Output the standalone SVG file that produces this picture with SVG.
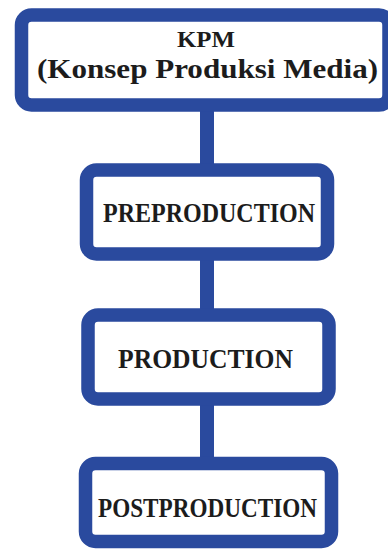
<svg xmlns="http://www.w3.org/2000/svg" width="388" height="550" viewBox="0 0 388 550">
<style>
.box{fill:#ffffff;stroke:#2a4a9e;stroke-width:13.5}
.conn{stroke:#2a4a9e;stroke-width:14;fill:none}
.t{font-family:"Liberation Serif",serif;font-weight:bold;fill:#1c1c1c;text-anchor:start}
</style>
<rect x="0" y="0" width="388" height="550" fill="#ffffff"/>
<g id="connectors">
<line class="conn" x1="207" y1="105" x2="207" y2="170"/>
<line class="conn" x1="207" y1="254" x2="207" y2="315"/>
<line class="conn" x1="207" y1="399" x2="207" y2="463"/>
</g>
<g id="kpm">
<rect class="box" x="21.5" y="15" width="367.5" height="90" rx="10"/>
<text class="t" x="177" y="47" font-size="23" textLength="58" lengthAdjust="spacingAndGlyphs">KPM</text>
<text class="t" x="37" y="78" font-size="27" textLength="341" lengthAdjust="spacingAndGlyphs">(Konsep Produksi Media)</text>
</g>
<g id="preproduction">
<rect class="box" x="86.5" y="170" width="241" height="84" rx="10"/>
<text class="t" x="103" y="222" font-size="27" textLength="212" lengthAdjust="spacingAndGlyphs">PREPRODUCTION</text>
</g>
<g id="production">
<rect class="box" x="88" y="315" width="241" height="84" rx="10"/>
<text class="t" x="118" y="368" font-size="27" textLength="175" lengthAdjust="spacingAndGlyphs">PRODUCTION</text>
</g>
<g id="postproduction">
<rect class="box" x="85.5" y="463.5" width="246" height="78" rx="10"/>
<text class="t" x="98" y="517" font-size="27" textLength="219" lengthAdjust="spacingAndGlyphs">POSTPRODUCTION</text>
</g>
</svg>
